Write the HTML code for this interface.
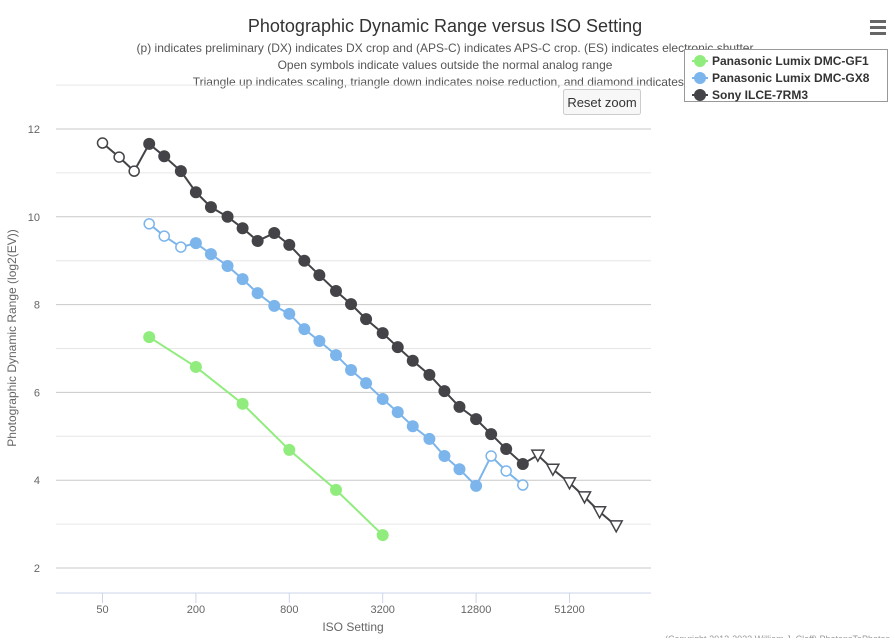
<!DOCTYPE html>
<html><head><meta charset="utf-8"><style>
body{margin:0;background:#fff;width:895px;height:638px;overflow:hidden;font-family:"Liberation Sans",sans-serif}
svg text{font-family:"Liberation Sans",sans-serif}
</style></head><body>
<svg id="c" width="895" height="638">
<text x="445" y="32" text-anchor="middle" font-size="18" fill="#333">Photographic Dynamic Range versus ISO Setting</text>
<g font-size="12" fill="#555" text-anchor="middle">
<text x="445" y="52">(p) indicates preliminary (DX) indicates DX crop and (APS-C) indicates APS-C crop. (ES) indicates electronic shutter</text>
<text x="445" y="69">Open symbols indicate values outside the normal analog range</text>
<text x="445" y="86">Triangle up indicates scaling, triangle down indicates noise reduction, and diamond indicates ...</text>
</g>
<g id="grid"></g>
<g id="series"></g>
<g id="axes"></g>
<text x="0" y="0" transform="translate(16,338) rotate(-90)" text-anchor="middle" font-size="12" fill="#666">Photographic Dynamic Range (log2(EV))</text>
<text x="353" y="631" text-anchor="middle" font-size="12" fill="#666">ISO Setting</text>
<g>
<rect x="563.5" y="89.5" width="77" height="25" rx="2" fill="#f7f7f7" stroke="#ccc"/>
<text x="602" y="107" text-anchor="middle" font-size="13" fill="#333">Reset zoom</text>
</g>
<g>
<rect x="870" y="20" width="16" height="3" fill="#666"/><rect x="870" y="26" width="16" height="3" fill="#666"/><rect x="870" y="32" width="16" height="3" fill="#666"/>
</g>
<g id="legend">
<rect x="684.5" y="49.5" width="203" height="52" fill="#fff" stroke="#999"/>
</g>
<text x="890" y="642" text-anchor="end" font-size="9" fill="#999">(Copyright 2012-2023 William J. Claff) PhotonsToPhotos</text>
</svg>
<script>
const isoTicks=[50,200,800,3200,12800,51200];
const yTicks=[2,4,6,8,10,12];
const seriesNames=["Panasonic Lumix DMC-GF1","Panasonic Lumix DMC-GX8","Sony ILCE-7RM3"];
const seriesColors=["#90ed7d","#7cb5ec","#434348"];
const gf1Iso=[100,200,400,800,1600,3200];
const gf1Dr=[7.26,6.58,5.74,4.69,3.78,2.75];
const gf1Open=[0,0,0,0,0,0];
const gx8Iso=[100,125,160,200,250,320,400,500,640,800,1000,1250,1600,2000,2500,3200,4000,5000,6400,8000,10000,12800,16000,20000,25600];
const gx8Dr=[9.84,9.56,9.31,9.40,9.15,8.88,8.58,8.26,7.97,7.79,7.44,7.17,6.85,6.51,6.21,5.85,5.55,5.23,4.94,4.55,4.25,3.87,4.55,4.21,3.89];
const gx8Open=[1,1,1,0,0,0,0,0,0,0,0,0,0,0,0,0,0,0,0,0,0,0,1,1,1];
const sonyIso=[50,64,80,100,125,160,200,250,320,400,500,640,800,1000,1250,1600,2000,2500,3200,4000,5000,6400,8000,10000,12800,16000,20000,25600,32000,40000,51200,64000,80000,102400];
const sonyDr=[11.68,11.36,11.04,11.66,11.38,11.04,10.56,10.22,10.0,9.74,9.45,9.63,9.36,9.0,8.67,8.31,8.01,7.67,7.35,7.03,6.72,6.40,6.03,5.67,5.39,5.05,4.71,4.37,4.57,4.25,3.94,3.62,3.28,2.96];
const sonyMark=["o","o","o","c","c","c","c","c","c","c","c","c","c","c","c","c","c","c","c","c","c","c","c","c","c","c","c","c","t","t","t","t","t","t"];
const NS="http://www.w3.org/2000/svg";
const X0=56,X1=651;
function xs(iso){return 102.5+Math.log2(iso/50)*46.7;}
function ys(v){return 129+(12-v)*43.9;}
function mk(tag,at,parent){const e=document.createElementNS(NS,tag);for(const k in at)e.setAttribute(k,at[k]);parent.appendChild(e);return e;}
const grid=document.getElementById('grid'),axes=document.getElementById('axes'),ser=document.getElementById('series');
for(let v=2;v<=13;v++){
 const g=mk('line',{x1:X0,x2:X1,y1:ys(v),y2:ys(v),stroke:v%2?'#e6e6e6':'#c8c8c8','stroke-width':1},grid);
 
 
}
yTicks.forEach(v=>{const t=mk('text',{x:40,y:ys(v)+4,'text-anchor':'end','font-size':11,fill:'#666'},axes);t.textContent=v;
 
 });
const ax=mk('line',{x1:X0,x2:X1,y1:593,y2:593,stroke:'#ccd6eb'},axes);


isoTicks.forEach(v=>{mk('line',{x1:xs(v),x2:xs(v),y1:593,y2:603,stroke:'#ccd6eb'},axes);
 const t=mk('text',{x:xs(v),y:613,'text-anchor':'middle','font-size':11,fill:'#666'},axes);t.textContent=v;
 
 });
function draw(isos,drs,marks,color,name){
 const g=mk('g',{},ser);
 
 
 mk('polyline',{points:isos.map((s,i)=>xs(s)+','+ys(drs[i])).join(' '),fill:'none',stroke:color,'stroke-width':2},g);
 isos.forEach((s,i)=>{const x=xs(s),y=ys(drs[i]);let m;
  if(marks[i]==='t'){m=mk('path',{d:`M${x-6},${y-5}L${x+6},${y-5}L${x},${y+6}Z`,fill:'#fff',stroke:color,'stroke-width':1.5},g);}
  else if(marks[i]==='o'){m=mk('circle',{cx:x,cy:y,r:5,fill:'#fff',stroke:color,'stroke-width':1.5},g);}
  else m=mk('circle',{cx:x,cy:y,r:6,fill:color},g);
  
  });
}
draw(gf1Iso,gf1Dr,gf1Open.map(o=>o?'o':'c'),seriesColors[0],'series-gf1');
draw(gx8Iso,gx8Dr,gx8Open.map(o=>o?'o':'c'),seriesColors[1],'series-gx8');
draw(sonyIso,sonyDr,sonyMark,seriesColors[2],'series-sony');
const lg=document.getElementById('legend');
seriesNames.forEach((n,i)=>{const y=61+i*17;
 const e=mk('g',{},lg);
 
 
 mk('line',{x1:692,x2:708,y1:y,y2:y,stroke:seriesColors[i],'stroke-width':2},e);
 mk('circle',{cx:700,cy:y,r:6,fill:seriesColors[i]},e);
 const t=mk('text',{x:712,y:y+4,'font-size':12,'font-weight':'bold',fill:'#333'},e);t.textContent=n;});
</script>
</body></html>
